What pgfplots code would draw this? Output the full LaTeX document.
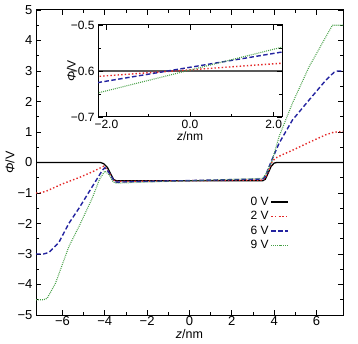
\documentclass[border=0pt]{standalone}
\usepackage{pgfplots}
\pgfplotsset{compat=1.18}
\usepackage{pgfplotstable}
\usepackage{fontspec}
\setmainfont{Liberation Sans}
\definecolor{cred}{RGB}{228,40,40}
\definecolor{cblue}{RGB}{35,35,160}
\definecolor{cgreen}{RGB}{70,160,70}

\pgfplotstableread{
z y
-7.25 0
-4.2 0
-4.05 -0.04
-3.88 -0.16
-3.72 -0.38
-3.58 -0.56
-3.45 -0.6
3.45 -0.6
3.58 -0.55
3.72 -0.34
3.86 -0.12
4.0 -0.02
4.12 0
7.25 0
}\tzero

\pgfplotstableread{
z y
-7.25 -1.0
-7.0 -0.99
-6.7 -0.92
-6.0 -0.70
-5.2 -0.49
-4.6 -0.31
-4.25 -0.19
-4.05 -0.12
-3.9 -0.22
-3.72 -0.43
-3.55 -0.60
-3.45 -0.620
3.45 -0.575
3.58 -0.50
3.75 -0.25
3.9 0.02
4.05 0.14
4.4 0.26
4.86 0.40
5.65 0.66
6.44 0.91
6.8 0.99
7.25 1.02
}\ttwo

\pgfplotstableread{
z y
-7.25 -3.0
-6.9 -3.0
-6.64 -2.95
-6.17 -2.62
-5.7 -2.0
-5.22 -1.5
-4.6 -0.80
-4.12 -0.26
-4.0 -0.17
-3.85 -0.28
-3.7 -0.45
-3.55 -0.62
-3.45 -0.644
3.45 -0.540
3.58 -0.45
3.75 -0.15
3.9 0.10
4.23 0.63
4.86 1.39
5.65 2.05
6.44 2.70
6.83 2.96
7.0 3.0
7.25 3.0
}\tsix

\pgfplotstableread{
z y
-7.25 -4.5
-6.9 -4.5
-6.72 -4.45
-6.33 -3.96
-5.93 -3.2
-5.7 -2.76
-5.22 -2.1
-4.6 -1.18
-4.25 -0.55
-4.0 -0.28
-3.8 -0.40
-3.6 -0.64
-3.45 -0.676
3.45 -0.520
3.6 -0.38
3.9 0.05
4.23 0.85
4.86 1.94
5.65 3.14
6.44 4.12
6.75 4.5
7.25 4.5
}\tnine

\begin{document}
\begin{tikzpicture}
\pgfplotsset{
  s0/.style={black, line width=1.3pt},
  s2/.style={cred, line width=1.4pt, dash pattern=on 1.4pt off 2.2pt},
  s6/.style={cblue, line width=1.4pt, dash pattern=on 4.5pt off 2.5pt},
  s9/.style={cgreen, line width=1.1pt, dash pattern=on 0.9pt off 1.1pt},
}
\begin{axis}[
  name=main,
  scale only axis, width=307pt, height=305pt,
  xmin=-7.25, xmax=7.25, ymin=-5, ymax=5,
  axis line style={line width=1pt},
  every tick/.style={black, line width=0.8pt},
  major tick length=5pt, minor tick length=3pt,
  xtick={-6,-4,-2,0,2,4,6},
  xticklabels={−6,−4,−2,0,2,4,6},
  ytick={-5,-4,-3,-2,-1,0,1,2,3,4,5},
  yticklabels={−5,−4,−3,−2,−1,0,1,2,3,4,5},
  minor x tick num=1, minor y tick num=1,
  tick label style={font=\fontsize{13}{14}\selectfont},
  xticklabel style={inner sep=0.5pt, yshift=-1pt},
  xlabel={\textit{z}/nm}, ylabel={\textit{Φ}/V},
  label style={font=\fontsize{12.5}{14}\selectfont},
  xlabel style={at={(axis description cs:0.5,-0.064)}, anchor=center, inner sep=0pt},
  ylabel style={at={(axis description cs:-0.085,0.5)}, anchor=center, inner sep=1pt},
  legend plot pos=right,
  legend cell align=right,
  legend style={draw=none, fill=none, at={(0.835,0.40)}, anchor=north east,
    font=\fontsize{12}{13}\selectfont, row sep=0.5pt},
]
\addplot[s0] table[x=z,y=y] {\tzero};
\addlegendentry{0 V}
\addplot[s2] table[x=z,y=y] {\ttwo};
\addlegendentry{2 V}
\addplot[s6] table[x=z,y=y] {\tsix};
\addlegendentry{6 V}
\addplot[s9] table[x=z,y=y] {\tnine};
\addlegendentry{9 V}
\end{axis}
\begin{axis}[
  at={(main.south west)}, xshift=62pt, yshift=198pt, anchor=south west,
  scale only axis, width=184pt, height=92pt,
  axis background/.style={fill=white},
  xmin=-2.2, xmax=2.2, ymin=-0.7, ymax=-0.5,
  axis line style={line width=1pt},
  every tick/.style={black, line width=0.8pt},
  major tick length=5pt, minor tick length=3pt,
  xtick={-2,0,2}, xticklabels={−2.0,0.0,2.0},
  ytick={-0.7,-0.6,-0.5}, yticklabels={−0.7,−0.6,−0.5},
  minor x tick num=1, minor y tick num=1,
  tick label style={font=\fontsize{12}{13}\selectfont},
  xlabel={\textit{z}/nm}, ylabel={\textit{Φ}/V},
  label style={font=\fontsize{12}{13}\selectfont},
  xlabel style={yshift=4pt},
  ylabel style={at={(axis description cs:-0.145,0.5)}, anchor=center, inner sep=1pt},
]
\addplot[s0] table[x=z,y=y] {\tzero};
\addplot[s2] table[x=z,y=y] {\ttwo};
\addplot[s6] table[x=z,y=y] {\tsix};
\addplot[s9] table[x=z,y=y] {\tnine};
\end{axis}
\pgfresetboundingbox
\path[use as bounding box] ([shift={(-36pt,-28pt)}]main.south west) rectangle ([shift={(15pt,10pt)}]main.north east);
\end{tikzpicture}
\end{document}
